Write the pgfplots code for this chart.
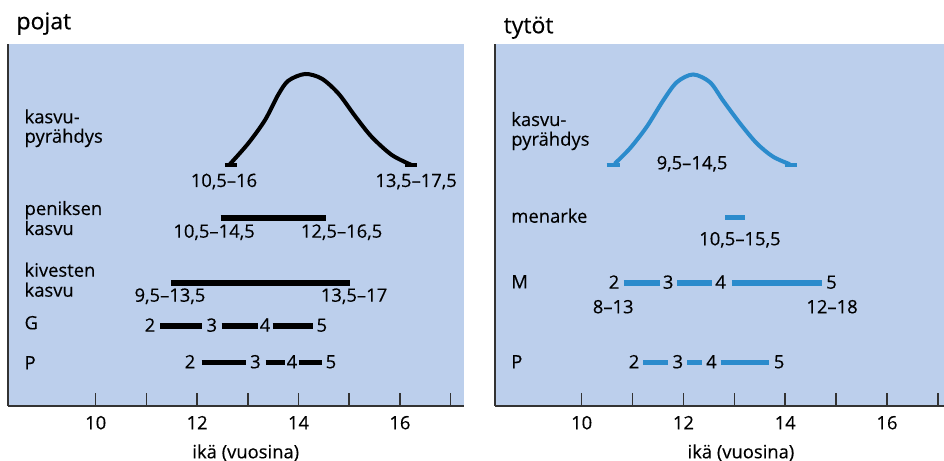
\documentclass[border=0pt]{standalone}
\usepackage{fontspec}
\setmainfont{Open Sans}[FakeBold=0.3]
\usepackage{pgfplots}
\pgfplotsset{compat=1.18}
\definecolor{bg}{HTML}{BCCFEC}
\definecolor{blu}{HTML}{2B8BCC}
\definecolor{axc}{HTML}{333333}
\newcommand\lbl{\fontsize{9.2}{10}\selectfont}
\newcommand\ttl{\fontsize{11.5}{13}\selectfont}

\tikzset{txt/.style={font=\lbl, inner sep=0pt}}
\pgfplotsset{
  panel/.style={
    scale only axis, height=180.85pt,
    ymin=0, ymax=361.7,
    axis x line=bottom, axis y line=left,
    axis line style={-, axc, line width=1pt},
    ytick=\empty,
    xtick={10,12,14,16}, minor xtick={11,13,15,17},
    tick align=inside, major tick length=6.5pt, minor tick length=6.5pt,
    tick style={axc, line width=0.75pt},
    xticklabel style={anchor=base, yshift=-11.8pt, font=\lbl},
    /pgf/number format/assume math mode=true,
    axis background/.style={fill=bg},
    clip=false,
  },
  bar/.style={line width=2.8pt, no marks},
  curve/.style={line width=2pt, smooth, no marks},
  cap/.style={line width=2.2pt, no marks},
}

\begin{document}
\begin{tikzpicture}
\path[use as bounding box] (0,0) rectangle (472pt,-230.5pt);

% pojat
\begin{axis}[panel, at={(4.25pt,-202.85pt)}, anchor=south west,
  width=227.9pt, xmin=8.28, xmax=17.27]
\addplot[black, curve] coordinates {(12.65,241.7) (13.01,262.4) (13.34,285.7) (13.60,311)
  (13.80,325) (14.13,331.7) (14.46,327) (14.79,312) (15.11,290) (15.44,269)
  (15.84,250.7) (16.23,240.7)};
\addplot[black, cap] coordinates {(12.55,240.4) (12.78,240.4)};
\addplot[black, cap] coordinates {(16.10,240.4) (16.33,240.4)};
\addplot[black, bar] coordinates {(12.465,187.4) (14.54,187.4)};
\addplot[black, bar] coordinates {(11.485,123) (15.015,123)};
\addplot[black, bar] coordinates {(11.27,80) (12.10,80)};
\addplot[black, bar] coordinates {(12.485,80) (13.21,80)};
\addplot[black, bar] coordinates {(13.49,80) (14.28,80)};
\addplot[black, bar] coordinates {(12.09,43.4) (12.96,43.4)};
\addplot[black, bar] coordinates {(13.35,43.4) (13.73,43.4)};
\addplot[black, bar] coordinates {(14.00,43.4) (14.46,43.4)};

\node[txt, anchor=base west, font=\ttl] at (axis cs:8.43,376.4) {pojat};
\node[txt, anchor=base west] at (axis cs:8.59,282.4) {kasvu-};
\node[txt, anchor=base west] at (axis cs:8.59,263) {pyrähdys};
\node[txt, anchor=base west] at (axis cs:8.59,190.7) {peniksen};
\node[txt, anchor=base west] at (axis cs:8.59,170.7) {kasvu};
\node[txt, anchor=base west] at (axis cs:8.59,129) {kivesten};
\node[txt, anchor=base west] at (axis cs:8.59,109) {kasvu};
\node[txt, anchor=base west] at (axis cs:8.59,76.4) {G};
\node[txt, anchor=base west] at (axis cs:8.59,36.4) {P};

\node[txt, anchor=base] at (axis cs:12.53,218.7) {10,5–16};
\node[txt, anchor=base] at (axis cs:16.32,218.7) {13,5–17,5};
\node[txt, anchor=base] at (axis cs:12.335,168) {10,5–14,5};
\node[txt, anchor=base] at (axis cs:14.85,168) {12,5–16,5};
\node[txt, anchor=base] at (axis cs:11.465,104) {9,5–13,5};
\node[txt, anchor=base] at (axis cs:15.095,104) {13,5–17};
\node[txt, anchor=base] at (axis cs:11.07,74) {2};
\node[txt, anchor=base] at (axis cs:12.29,74) {3};
\node[txt, anchor=base] at (axis cs:13.34,74) {4};
\node[txt, anchor=base] at (axis cs:14.46,74) {5};
\node[txt, anchor=base] at (axis cs:11.86,37.4) {2};
\node[txt, anchor=base] at (axis cs:13.15,37.4) {3};
\node[txt, anchor=base] at (axis cs:13.87,37.4) {4};
\node[txt, anchor=base] at (axis cs:14.64,37.4) {5};
\node[txt, anchor=base] at (axis cs:12.96,-52.6) {ikä (vuosina)};
\end{axis}

% tytöt
\begin{axis}[panel, at={(247.5pt,-202.85pt)}, anchor=south west,
  width=224.5pt, xmin=8.297, xmax=17.12]
\addplot[blu, curve] coordinates {(10.65,242) (10.95,257.4) (11.28,279) (11.60,305)
  (11.87,323.5) (12.19,331.2) (12.52,323.5) (12.78,305) (13.11,282.4) (13.44,262.4)
  (13.76,249) (14.09,241.5)};
\addplot[blu, cap] coordinates {(10.49,240.4) (10.75,240.4)};
\addplot[blu, cap] coordinates {(14.00,240.4) (14.23,240.4)};
\addplot[blu, bar] coordinates {(12.82,188) (13.21,188)};
\addplot[blu, bar] coordinates {(10.83,123) (11.54,123)};
\addplot[blu, bar] coordinates {(11.87,123) (12.57,123)};
\addplot[blu, bar] coordinates {(12.95,123) (14.715,123)};
\addplot[blu, bar] coordinates {(11.21,43.4) (11.70,43.4)};
\addplot[blu, bar] coordinates {(12.075,43.4) (12.37,43.4)};
\addplot[blu, bar] coordinates {(12.73,43.4) (13.685,43.4)};

\node[txt, anchor=base west, font=\ttl] at (axis cs:8.46,372.4) {tytöt};
\node[txt, anchor=base west] at (axis cs:8.61,279.7) {kasvu-};
\node[txt, anchor=base west] at (axis cs:8.61,260) {pyrähdys};
\node[txt, anchor=base west] at (axis cs:8.61,183) {menarke};
\node[txt, anchor=base west] at (axis cs:8.61,117.4) {M};
\node[txt, anchor=base west] at (axis cs:8.61,37.4) {P};

\node[txt, anchor=base] at (axis cs:12.17,236.4) {9,5–14,5};
\node[txt, anchor=base] at (axis cs:13.11,160.4) {10,5–15,5};
\node[txt, anchor=base] at (axis cs:10.635,117) {2};
\node[txt, anchor=base] at (axis cs:11.70,117) {3};
\node[txt, anchor=base] at (axis cs:12.73,117) {4};
\node[txt, anchor=base] at (axis cs:14.91,117) {5};
\node[txt, anchor=base] at (axis cs:10.62,92.4) {8–13};
\node[txt, anchor=base] at (axis cs:14.92,92.4) {12–18};
\node[txt, anchor=base] at (axis cs:11.03,37.4) {2};
\node[txt, anchor=base] at (axis cs:11.89,37.4) {3};
\node[txt, anchor=base] at (axis cs:12.55,37.4) {4};
\node[txt, anchor=base] at (axis cs:13.88,37.4) {5};
\node[txt, anchor=base] at (axis cs:13.13,-52.6) {ikä (vuosina)};
\end{axis}
\end{tikzpicture}
\end{document}
